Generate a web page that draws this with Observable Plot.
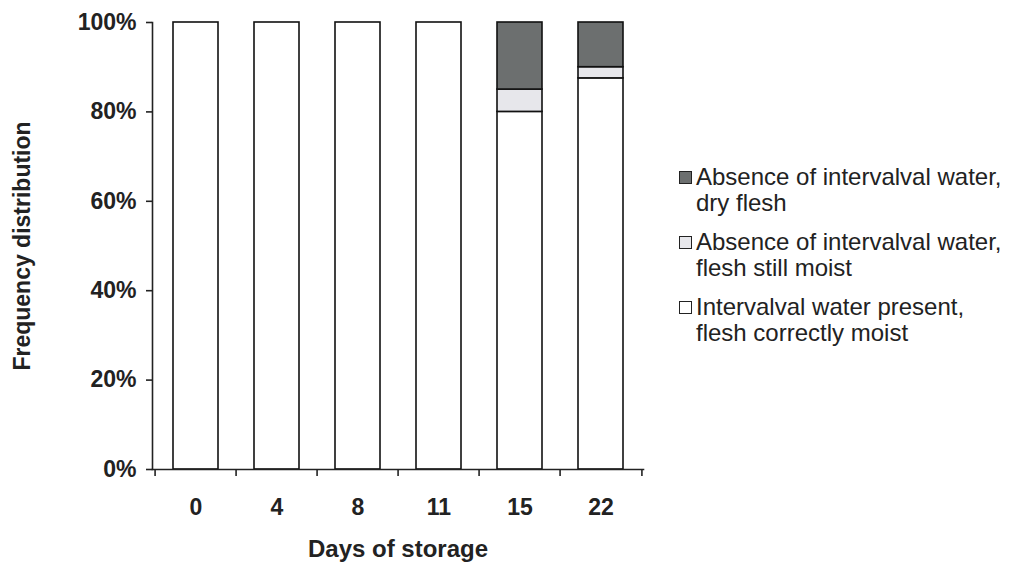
<!DOCTYPE html>
<html>
<head>
<meta charset="utf-8">
<script src="https://cdn.jsdelivr.net/npm/d3@7"></script>
<script src="https://cdn.jsdelivr.net/npm/@observablehq/plot@0.6"></script>
<style>
  body { margin: 0; background: #fff; font-family: "Liberation Sans", Arial, sans-serif; }
  #wrap { position: relative; width: 1009px; height: 562px; overflow: hidden; }
  #legend { position: absolute; left: 679px; top: 164px; font-size: 24px; color: #222; line-height: 26px; white-space: nowrap; }
  .item { display: flex; align-items: flex-start; margin-bottom: 13px; }
  .sw { width: 11px; height: 11px; border: 1.6px solid #222; margin-top: 7px; margin-right: 4px; flex: none; }
</style>
</head>
<body>
<div id="wrap"><div id="chart"></div><div id="legend"></div></div>
<script>
const days = ["0", "4", "8", "11", "15", "22"];
const seriesNames = [
  "Intervalval water present, flesh correctly moist",
  "Absence of intervalval water, flesh still moist",
  "Absence of intervalval water, dry flesh"
];
const present    = [100, 100, 100, 100, 80, 87.5];
const stillMoist = [0, 0, 0, 0, 5, 2.5];
const dryFlesh   = [0, 0, 0, 0, 15, 10];
const yTicks = [0, 20, 40, 60, 80, 100];
const colors = ["#ffffff", "#e7e7eb", "#6c6f6f"];
const legendOrder = [2, 1, 0];
const legendLines = [
  ["Intervalval water present,", "flesh correctly moist"],
  ["Absence of intervalval water,", "flesh still moist"],
  ["Absence of intervalval water,", "dry flesh"]
];

const seriesValues = [present, stillMoist, dryFlesh];
const rows = [];
seriesValues.forEach((vals, s) => days.forEach((d, i) => {
  if (vals[i] > 0) rows.push({day: d, series: seriesNames[s], value: vals[i]});
}));

const W = 680, H = 562, ML = 152, MR = 37, MT = 22, MB = 93;
const step = (W - ML - MR) / days.length;

const plot = Plot.plot({
  width: W, height: H,
  marginLeft: ML, marginRight: MR, marginTop: MT, marginBottom: MB,
  style: {fontFamily: "Liberation Sans, Arial, sans-serif", color: "#222", background: "#fff", overflow: "visible"},
  x: {domain: days, paddingInner: 0.45, paddingOuter: 0.225, label: null},
  y: {domain: [0, 100], label: null},
  color: {domain: seriesNames, range: colors},
  marks: [
    Plot.barY(rows, {x: "day", y: "value", fill: "series", stroke: "#111", strokeWidth: 1.6,
      order: seriesNames, z: "series"}),
    Plot.frame({anchor: "left", stroke: "#222", strokeWidth: 1.6}),
    Plot.frame({anchor: "bottom", stroke: "#222", strokeWidth: 1.6}),
    Plot.axisY({ticks: yTicks, tickFormat: d => d + "%", tickSize: 6, tickPadding: 10,
      fontSize: 23, fontWeight: "bold", strokeWidth: 1.6, label: null}),
    Plot.axisX({tickSize: 0, tickPadding: 29, fontSize: 23, fontWeight: "bold", label: null}),
    Plot.axisX({tickFormat: () => "", tickSize: 7, dx: -step / 2, strokeWidth: 1.6, label: null}),
    Plot.axisX({ticks: [days[days.length - 1]], tickFormat: () => "", tickSize: 7, dx: step / 2, strokeWidth: 1.6, label: null}),
    Plot.text(["Days of storage"], {frameAnchor: "bottom", lineAnchor: "middle", dy: 80, fontSize: 24, fontWeight: "bold", fill: "#222"}),
    Plot.text(["Frequency distribution"], {frameAnchor: "left", textAnchor: "middle", lineAnchor: "middle", dx: -130, rotate: -90, fontSize: 23, fontWeight: "bold", fill: "#222"})
  ]
});
document.getElementById("chart").appendChild(plot);

const legend = document.getElementById("legend");
legendOrder.forEach(s => {
  const item = document.createElement("div");
  item.className = "item";
  const sw = document.createElement("div");
  sw.className = "sw";
  sw.style.background = colors[s];
  const txt = document.createElement("div");
  txt.innerHTML = legendLines[s].join("<br>");
  item.appendChild(sw); item.appendChild(txt);
  legend.appendChild(item);
});
</script>
</body>
</html>
